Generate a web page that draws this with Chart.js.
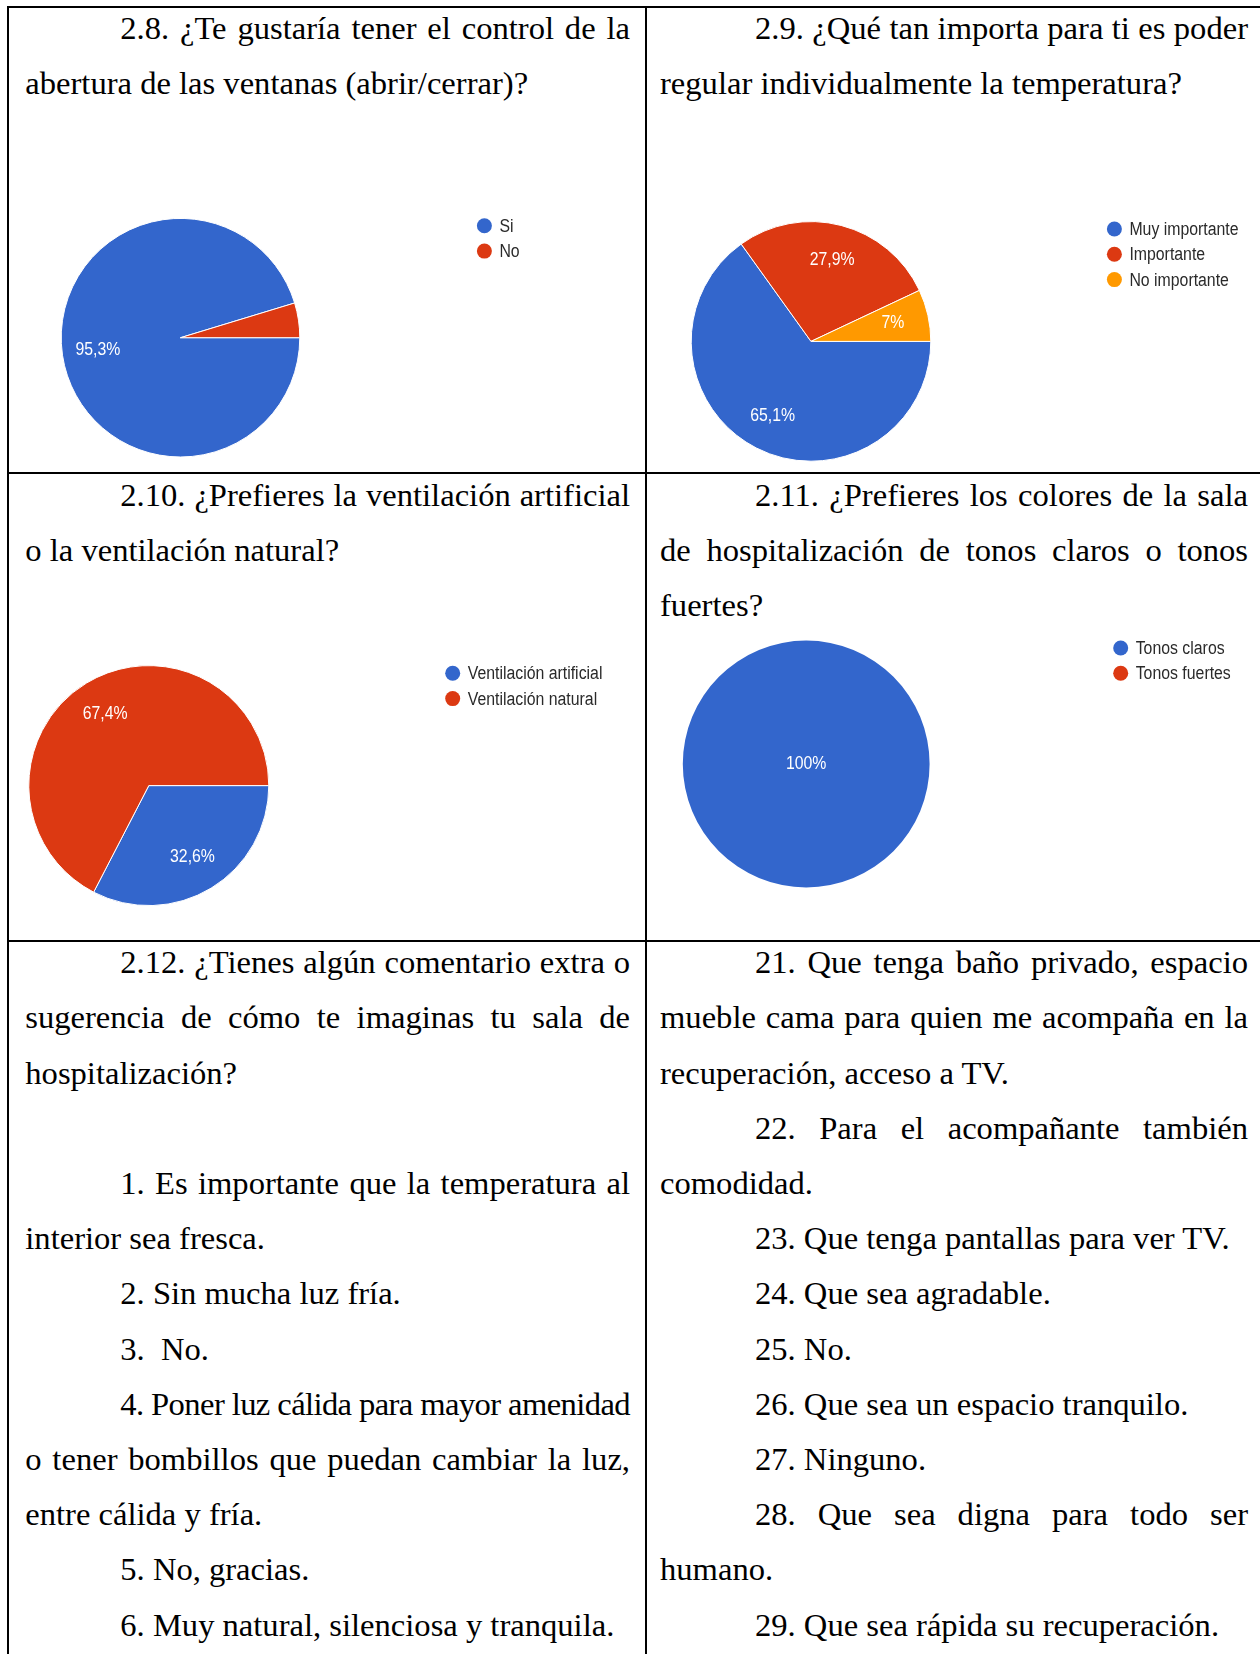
<!DOCTYPE html>
<html lang="es">
<head>
<meta charset="utf-8">
<title>Encuesta sala de hospitalización</title>
<script src="https://cdn.jsdelivr.net/npm/chart.js@4.4.1/dist/chart.umd.min.js"></script>
<style>
html, body { margin: 0; padding: 0; background: #fff; }
#page { position: relative; width: 1260px; height: 1654px; overflow: hidden; background: #fff; }
.rule { position: absolute; background: #000; }
.ln {
    position: absolute;
    height: 40px;
    line-height: 40px;
    font-family: "Liberation Serif", "Times New Roman", serif;
    font-size: 32.6px;
    color: #000;
    white-space: pre;
}
canvas { position: absolute; }
</style>
</head>
<body>
<div id="page">
    <div class="rule" style="left:7px; top:6px; width:1253px; height:2px;"></div>
    <div class="rule" style="left:7px; top:6px; width:2px; height:1648px;"></div>
    <div class="rule" style="left:645px; top:6px; width:2px; height:1648px;"></div>
    <div class="rule" style="left:7px; top:472px; width:1253px; height:2px;"></div>
    <div class="rule" style="left:7px; top:940px; width:1253px; height:2px;"></div>

    <canvas id="chartVentanas"></canvas>
    <canvas id="chartTemperatura"></canvas>
    <canvas id="chartVentilacion"></canvas>
    <canvas id="chartColores"></canvas>
</div>

<script>
// 2.8 control de las ventanas
var ventanasLabels = ['Si', 'No'];
var ventanasValues = [95.3, 4.7];

// 2.9 regular la temperatura
var temperaturaLabels = ['Muy importante', 'Importante', 'No importante'];
var temperaturaValues = [65.1, 27.9, 7];

// 2.10 tipo de ventilación
var ventilacionLabels = ['Ventilación artificial', 'Ventilación natural'];
var ventilacionValues = [32.6, 67.4];

// 2.11 colores de la sala
var coloresLabels = ['Tonos claros', 'Tonos fuertes'];
var coloresValues = [100, 0];

var sliceColors = ['#3366cc', '#dc3912', '#ff9900'];

// texto de cada celda: [texto, sangría, justificado]
var celdaVentanas = [
    ['2.8. ¿Te gustaría tener el control de la', 1, 1],
    ['abertura de las ventanas (abrir/cerrar)?', 0, 0]
];
var celdaTemperatura = [
    ['2.9. ¿Qué tan importa para ti es poder', 1, 1],
    ['regular individualmente la temperatura?', 0, 0]
];
var celdaVentilacion = [
    ['2.10. ¿Prefieres la ventilación artificial', 1, 1],
    ['o la ventilación natural?', 0, 0]
];
var celdaColores = [
    ['2.11. ¿Prefieres los colores de la sala', 1, 1],
    ['de hospitalización de tonos claros o tonos', 0, 1],
    ['fuertes?', 0, 0]
];
var celdaComentarios = [
    ['2.12. ¿Tienes algún comentario extra o', 1, 1],
    ['sugerencia de cómo te imaginas tu sala de', 0, 1],
    ['hospitalización?', 0, 0],
    ['', 0, 0],
    ['1. Es importante que la temperatura al', 1, 1],
    ['interior sea fresca.', 0, 0],
    ['2. Sin mucha luz fría.', 1, 0],
    ['3.  No.', 1, 0],
    ['4. Poner luz cálida para mayor amenidad', 1, 1],
    ['o tener bombillos que puedan cambiar la luz,', 0, 1],
    ['entre cálida y fría.', 0, 0],
    ['5. No, gracias.', 1, 0],
    ['6. Muy natural, silenciosa y tranquila.', 1, 0]
];
var celdaRespuestas = [
    ['21. Que tenga baño privado, espacio', 1, 1],
    ['mueble cama para quien me acompaña en la', 0, 1],
    ['recuperación, acceso a TV.', 0, 0],
    ['22. Para el acompañante también', 1, 1],
    ['comodidad.', 0, 0],
    ['23. Que tenga pantallas para ver TV.', 1, 0],
    ['24. Que sea agradable.', 1, 0],
    ['25. No.', 1, 0],
    ['26. Que sea un espacio tranquilo.', 1, 0],
    ['27. Ninguno.', 1, 0],
    ['28. Que sea digna para todo ser', 1, 1],
    ['humano.', 0, 0],
    ['29. Que sea rápida su recuperación.', 1, 0]
];

var page = document.getElementById('page');
var lineStep = 55.2;
var indent = 95;
var baselineOffset = 29.4;

function writeCell(lines, x0, x1, firstBaseline) {
    lines.forEach(function (l, i) {
        if (!l[0]) return;
        var el = document.createElement('div');
        el.className = 'ln';
        var left = x0 + (l[1] ? indent : 0);
        el.style.left = left + 'px';
        el.style.width = (x1 - left) + 'px';
        el.style.top = (firstBaseline + i * lineStep - baselineOffset) + 'px';
        if (l[2]) el.setAttribute('data-j', '1');
        var span = document.createElement('span');
        span.textContent = l[0];
        el.appendChild(span);
        page.appendChild(el);
    });
}

writeCell(celdaVentanas, 25.3, 630, 37);
writeCell(celdaTemperatura, 660, 1248, 37);
writeCell(celdaVentilacion, 25.3, 630, 504);
writeCell(celdaColores, 660, 1248, 504);
writeCell(celdaComentarios, 25.3, 630, 971.5);
writeCell(celdaRespuestas, 660, 1248, 971.5);

// justified lines: widen the spaces, or tighten the letters when the line is too long
document.querySelectorAll('.ln[data-j]').forEach(function (el) {
    var span = el.firstChild;
    var natural = span.getBoundingClientRect().width;
    var avail = parseFloat(el.style.width);
    var gaps = (span.textContent.match(/ /g) || []).length;
    var extra = avail - natural;
    if (extra >= 0 && gaps) {
        span.style.wordSpacing = (extra / gaps) + 'px';
    } else if (extra < 0) {
        span.style.letterSpacing = (extra / span.textContent.length) + 'px';
    }
});

function pctText(v) {
    return String(v).replace('.', ',') + '%';
}

var chartFont = '18px "Liberation Sans", Arial, sans-serif';

// slice percentages and the dot legend, drawn the way the form summary shows them
var pieText = {
    id: 'pieText',
    afterDatasetsDraw: function (chart, args, opts) {
        var ctx = chart.ctx;
        var values = chart.data.datasets[0].data;
        var colors = chart.data.datasets[0].backgroundColor;
        var total = values.reduce(function (a, b) { return a + b; }, 0);
        var meta = chart.getDatasetMeta(0);
        ctx.save();
        ctx.font = chartFont;
        ctx.textBaseline = 'middle';

        ctx.textAlign = 'center';
        ctx.fillStyle = '#fff';
        meta.data.forEach(function (arc, i) {
            var v = values[i];
            if (v < 5) return;
            var p = arc.getProps(['x', 'y', 'startAngle', 'endAngle', 'outerRadius'], true);
            var x = p.x, y = p.y;
            if (v < total) {
                var mid = (p.startAngle + p.endAngle) / 2;
                x += Math.cos(mid) * p.outerRadius * 0.7;
                y += Math.sin(mid) * p.outerRadius * 0.7;
            }
            ctx.save();
            ctx.translate(x, y);
            ctx.scale(0.88, 1);
            ctx.fillText(pctText(v), 0, 0);
            ctx.restore();
        });

        ctx.textAlign = 'left';
        chart.data.labels.forEach(function (label, i) {
            var cy = opts.y + i * opts.step;
            ctx.fillStyle = colors[i];
            ctx.beginPath();
            ctx.arc(opts.x, cy, 7.5, 0, Math.PI * 2);
            ctx.fill();
            ctx.fillStyle = '#2a2a2a';
            ctx.save();
            ctx.translate(opts.x + 15, cy + 1);
            ctx.scale(0.88, 1);
            ctx.fillText(label, 0, 0);
            ctx.restore();
        });
        ctx.restore();
    }
};

function drawPie(id, box, cx, cy, r, labels, values, legend) {
    var cv = document.getElementById(id);
    cv.width = box.w;
    cv.height = box.h;
    cv.style.left = box.x + 'px';
    cv.style.top = box.y + 'px';
    var shown = values.filter(function (v) { return v > 0; }).length;
    return new Chart(cv, {
        type: 'pie',
        data: {
            labels: labels,
            datasets: [{
                data: values,
                backgroundColor: sliceColors.slice(0, values.length),
                borderColor: '#fff',
                borderWidth: shown > 1 ? 1 : 0,
                hoverOffset: 0,
                radius: r
            }]
        },
        options: {
            responsive: false,
            animation: false,
            events: [],
            rotation: 90,
            layout: {
                padding: {
                    left: cx - r - box.x,
                    top: cy - r - box.y,
                    right: box.x + box.w - cx - r,
                    bottom: box.y + box.h - cy - r
                }
            },
            plugins: {
                legend: { display: false },
                tooltip: { enabled: false },
                pieText: { x: legend.x - box.x, y: legend.y - box.y, step: 25.3 }
            }
        },
        plugins: [pieText]
    });
}

drawPie('chartVentanas', { x: 10, y: 110, w: 634, h: 360 }, 180.5, 337.7, 119.3,
    ventanasLabels, ventanasValues, { x: 484.4, y: 225.8 });
drawPie('chartTemperatura', { x: 648, y: 110, w: 612, h: 360 }, 811, 341.4, 119.8,
    temperaturaLabels, temperaturaValues, { x: 1114.4, y: 229 });
drawPie('chartVentilacion', { x: 10, y: 576, w: 634, h: 362 }, 148.8, 785.6, 120,
    ventilacionLabels, ventilacionValues, { x: 452.7, y: 673.3 });
drawPie('chartColores', { x: 648, y: 625, w: 612, h: 313 }, 806.2, 764, 123.4,
    coloresLabels, coloresValues, { x: 1120.7, y: 648 });
</script>
</body>
</html>
